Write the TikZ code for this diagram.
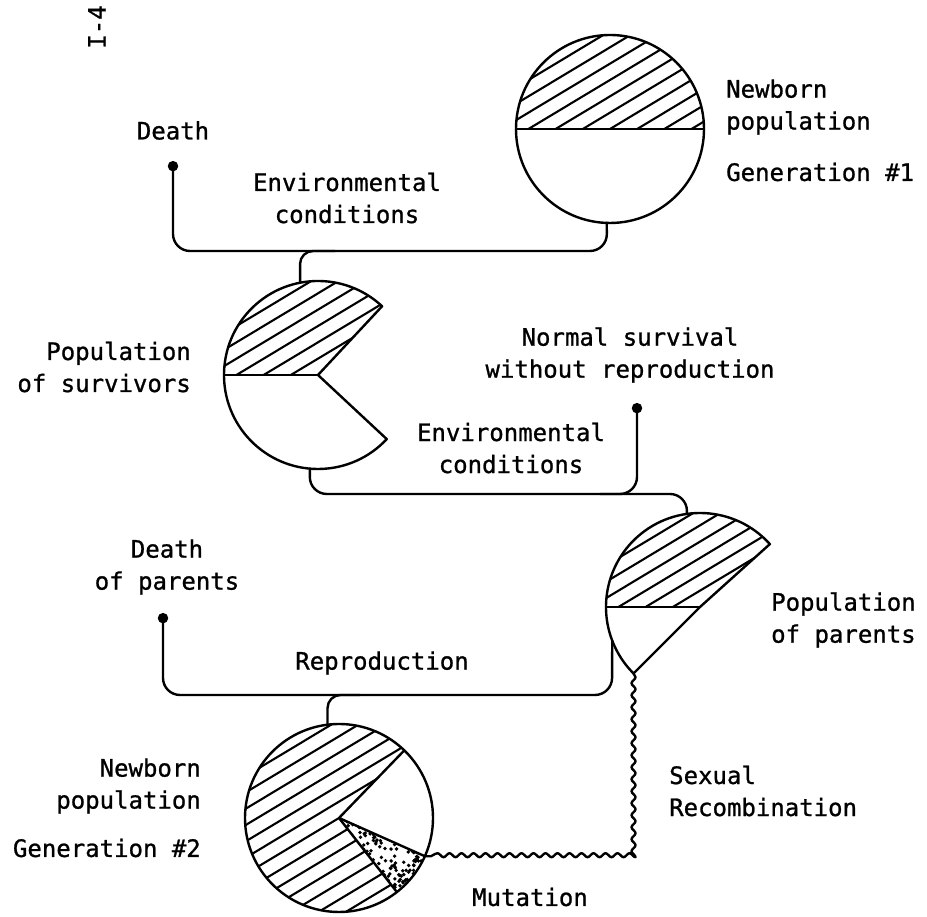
\documentclass[tikz,border=0pt]{standalone}
\usepackage{fontspec}
\newfontfamily\typew[FakeBold=1]{DejaVu Sans Mono}
\usetikzlibrary{arrows,positioning,decorations.pathmorphing}

% hatch one sector of a pie node
\newcommand{\hatchpie}[3]{%
  \begin{scope}
    \clip (#1.center) -- (#1.#2) arc[start angle=#2, end angle=#3, radius=94] -- cycle;
    \begin{scope}[shift={(#1.center)}, rotate=31]
      \foreach \k in {-7,...,7} \draw[hatch] (-100,\k*14) -- (100,\k*14);
    \end{scope}
  \end{scope}}

\begin{document}
\begin{tikzpicture}[
  x=1pt, y=1pt, line width=2.4pt, line cap=round, line join=round,
  pie/.style={circle, minimum size=188pt, inner sep=0pt, outer sep=0pt},
  lbl/.style={font=\typew\fontsize{24}{32}\selectfont, inner sep=0pt, align=center},
  hatch/.style={line width=2.1pt},
  link/.style={rounded corners=17pt},
  bump/.style={rounded corners=13pt},
  wavy/.style={decorate, decoration={snake, amplitude=2pt, segment length=12pt}}
]
  \useasboundingbox (0,0) rectangle (927,917);

  \node[pie] (n1) at (610,788) {};
  \node[pie] (s1) at (318,542) {};
  \node[pie] (p2) at (700,310) {};
  \node[pie] (b2) at (339,99) {};

  % generation 1
  \hatchpie{n1}{0}{180}
  \draw (n1.center) circle[radius=94];
  \draw (n1.180) -- (n1.0);

  % survivors
  \hatchpie{s1}{47}{180}
  \draw (s1.center) -- (s1.47) arc[start angle=47, end angle=317, radius=94] -- cycle;
  \draw (s1.center) -- (s1.180);

  % parents
  \hatchpie{p2}{42}{180}
  \draw (p2.center) -- (p2.42) arc[start angle=42, end angle=225, radius=94] -- cycle;
  \draw (p2.center) -- (p2.180);

  % generation 2
  \hatchpie{b2}{46}{308}
  \begin{scope}
    \clip (b2.center) -- (b2.308) arc[start angle=308, end angle=336, radius=94] -- cycle;
    \pgfmathsetseed{12}
    \foreach \i in {1,...,110}{
      \pgfmathsetmacro\ang{306+32*rnd}
      \pgfmathsetmacro\rad{96*sqrt(rnd)}
      \fill (b2.center) ++(\ang:\rad) circle[radius=1.9];
    }
  \end{scope}
  \draw (b2.center) circle[radius=94];
  \draw (b2.46) -- (b2.center) -- (b2.336);
  \draw (b2.center) -- (b2.308);

  \node[lbl, rotate=90] (pg) at (97,890) {I-4};
  \node[lbl, align=left, anchor=west] (n1lbl) at (725,810) {Newborn\\population};
  \node[lbl, anchor=west] (n1gen) at (725,745) {Generation \#1};
  \coordinate (d1dot) at (173,756);
  \node[lbl, above=20pt of d1dot] (d1) {Death};
  \node[lbl] (env1) at (347,719) {Environmental\\conditions};
  \node[lbl, align=right, anchor=east] (s1lbl) at (192,550) {Population\\of survivors};
  \coordinate (nsdot) at (637,514);
  \node[lbl] (ns) at (630,562) {Normal survival\\without reproduction};
  \node[lbl] (env2) at (511,469) {Environmental\\conditions};
  \node[lbl, align=left, anchor=west] (p2lbl) at (770,297) {Population\\of parents};
  \coordinate (dpdot) at (163,304);
  \node[lbl] (dp) at (167,350) {Death\\of parents};
  \node[lbl] (rep) at (382,254) {Reproduction};
  \node[lbl, align=right, anchor=east] (b2lbl) at (202,131) {Newborn\\population};
  \node[lbl, anchor=east] (b2gen) at (202,69) {Generation \#2};
  \node[lbl, align=left, anchor=west] (sex) at (668,126) {Sexual\\Recombination};
  \node[lbl] (mut) at (530,20) {Mutation};

  \coordinate (j1) at (607,666);
  \coordinate (j2) at (687,423);
  \coordinate (j3) at (600,423);
  \coordinate (j4) at (612,222);

  \draw[*-, link] (d1dot) |- (j1) -- (n1.268);
  \draw[bump] (s1.101) |- (335,666);
  \draw[link] (s1.265) |- (j2) -- (p2.98);
  \draw[*-, link] (nsdot) |- (j3);
  \draw[*-, link] (dpdot) |- (j4) -- (p2.201);
  \draw[bump] (b2.97) |- (360,222);
  \draw[wavy] (p2.225) |- (b2.336);
\end{tikzpicture}
\end{document}
